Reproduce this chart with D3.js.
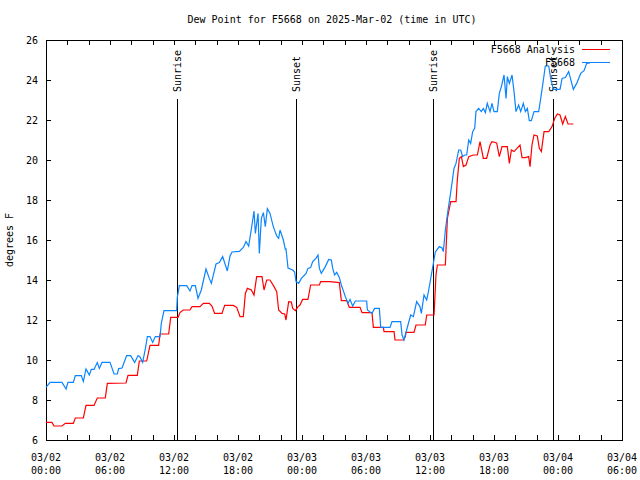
<!DOCTYPE html>
<html>
<head>
<meta charset="utf-8">
<script src="https://cdn.jsdelivr.net/npm/d3@7/dist/d3.min.js"></script>
<style>
  body { margin: 0; background: #fff; }
  text { font-family: "DejaVu Sans Mono", "Liberation Mono", monospace; font-size: 10px; fill: #000; }
</style>
</head>
<body>
<svg id="chart" width="640" height="480"></svg>
<script>
// ---- data (hours since 2025-03-02 00:00 UTC) ----
const obsHours = [0.00,0.38,1.50,1.88,2.06,2.56,2.75,3.31,3.50,3.75,4.06,4.25,4.50,4.81,5.00,5.25,6.00,6.38,6.69,6.81,7.13,7.56,7.94,8.31,8.63,8.81,9.06,9.31,9.50,9.75,10.00,10.25,10.69,10.81,11.06,12.25,12.31,12.50,13.19,13.50,13.69,14.00,14.25,14.56,15.00,15.31,15.50,15.94,16.25,16.56,17.00,17.25,17.44,18.13,18.50,18.75,19.00,19.31,19.50,19.63,19.88,20.00,20.19,20.38,20.56,20.75,21.00,21.31,21.63,21.81,21.94,22.25,22.44,22.50,22.69,23.13,23.31,23.44,23.69,23.94,24.38,24.56,24.81,25.00,25.31,25.50,25.63,25.81,26.19,26.50,26.75,26.88,27.06,27.25,27.50,27.69,28.06,28.31,28.50,28.75,29.00,30.06,30.13,30.56,30.81,31.25,31.38,32.25,32.44,33.25,33.38,33.56,33.81,34.19,34.44,34.75,35.06,35.19,35.44,35.69,35.88,36.19,36.50,36.88,37.13,37.25,37.44,37.69,37.88,38.06,38.25,38.44,38.69,38.88,39.06,39.25,39.44,39.63,39.81,40.00,40.19,40.31,40.56,40.81,41.00,41.19,41.37,41.63,41.81,42.00,42.31,42.50,42.69,42.94,43.13,43.25,43.44,43.69,43.88,44.06,44.31,44.50,44.75,44.94,45.13,45.31,45.50,45.75,46.19,46.38,46.63,46.81,47.13,47.31,47.56,48.19,48.38,48.69,49.00,49.44,49.75,50.13,50.44,50.69,51.00];
const obsValues = [8.63,8.88,8.88,8.55,8.88,8.88,9.22,9.22,8.92,9.55,9.25,9.53,9.53,9.87,9.58,9.88,9.88,9.30,9.30,9.57,9.60,10.22,10.22,9.88,10.22,10.15,9.88,10.55,11.17,11.17,10.88,11.17,11.17,11.83,12.47,12.47,13.13,13.72,13.72,13.45,13.72,13.72,13.08,13.50,14.55,14.08,13.83,14.80,14.87,15.17,14.45,15.20,15.40,15.43,15.63,15.92,15.70,16.75,17.45,16.33,17.33,15.33,17.08,17.37,16.67,17.57,17.33,16.67,16.20,16.08,16.50,16.00,15.53,15.55,14.60,14.50,14.40,13.92,13.83,14.08,14.33,14.58,14.62,14.92,15.08,15.25,14.58,14.33,14.67,15.03,15.00,14.58,14.25,14.38,14.13,13.75,13.17,12.83,13.03,12.70,12.95,12.95,12.50,12.33,12.58,12.58,11.63,11.63,11.92,11.92,11.25,11.00,11.50,12.25,12.17,12.92,12.67,12.33,13.25,13.00,13.50,14.45,15.40,15.67,15.60,15.42,16.50,17.50,18.17,18.83,19.58,19.83,20.50,20.50,20.17,20.25,20.25,21.00,20.83,21.42,21.58,22.42,22.58,22.42,22.58,22.37,22.83,22.42,22.83,22.42,22.42,23.33,23.67,24.25,23.08,24.17,23.83,24.25,23.42,22.42,22.75,22.42,22.83,22.42,22.58,21.97,21.97,22.42,22.42,23.08,24.00,24.70,24.70,24.08,23.53,23.53,24.08,24.12,24.42,23.53,23.83,24.33,24.47,24.83,24.85];

const anaHours = [0.00,0.56,0.75,1.50,1.81,2.56,2.75,3.50,3.75,4.50,4.81,5.56,5.75,7.50,7.69,8.56,8.75,9.44,9.75,10.56,10.69,11.50,11.69,12.38,12.56,12.87,13.50,13.69,14.44,14.75,15.31,15.56,15.81,16.50,16.75,17.56,17.88,18.19,18.50,18.69,18.88,19.25,19.50,19.75,20.25,20.44,20.69,21.00,21.38,21.63,21.81,22.13,22.38,22.50,22.75,23.00,23.13,23.38,23.63,23.81,24.06,24.56,24.81,25.63,25.75,26.63,27.50,27.69,28.19,28.44,29.44,29.63,30.56,30.69,31.63,31.69,32.63,32.72,33.50,33.69,33.75,34.50,34.69,35.56,35.69,36.38,36.56,36.69,37.44,37.63,37.88,37.94,38.44,38.56,38.75,38.94,39.13,39.38,39.63,40.06,40.44,40.69,41.00,41.31,41.63,41.81,42.25,42.50,42.75,43.25,43.44,43.63,43.88,44.44,44.63,44.94,45.25,45.38,45.56,45.75,46.06,46.25,46.44,46.69,47.13,47.44,47.69,47.94,48.19,48.44,48.69,48.94,49.44];
const anaValues = [6.88,6.88,6.70,6.70,6.83,6.83,7.10,7.10,7.73,7.73,8.10,8.10,8.83,8.85,9.23,9.23,9.95,9.95,10.73,10.73,11.30,11.30,12.13,12.13,12.37,12.50,12.50,12.67,12.67,12.83,12.83,12.70,12.33,12.33,12.73,12.73,12.63,12.17,12.17,13.33,13.58,13.50,13.25,14.17,14.17,13.50,14.00,14.00,13.67,13.42,12.50,12.33,12.30,12.00,12.92,12.90,12.58,12.47,12.67,12.75,13.03,13.03,13.75,13.75,13.92,13.92,13.87,12.97,12.97,12.63,12.63,12.37,12.37,11.63,11.63,11.42,11.42,11.00,11.00,11.17,11.38,11.38,11.75,11.75,12.25,12.25,14.25,14.75,14.75,17.08,17.75,17.92,17.92,19.00,20.08,20.17,19.67,19.75,20.17,20.25,20.25,20.92,20.08,20.08,20.75,20.92,20.85,20.17,20.67,20.67,19.83,20.50,20.42,20.75,20.12,20.12,20.17,19.67,20.75,21.25,21.20,20.58,20.42,21.42,21.42,21.67,22.08,22.30,22.25,21.80,22.17,21.80,21.80];

const eventHours = [12.28, 23.44, 36.28, 47.53];
const eventLabels = ["Sunrise", "Sunset", "Sunrise", "Sunset"];

const yTicks = [6,8,10,12,14,16,18,20,22,24,26];
const xLabelHours = [0,6,12,18,24,30,36,42,48,54];
const xLabelDates = ["03/02","03/02","03/02","03/02","03/03","03/03","03/03","03/03","03/04","03/04"];
const xLabelTimes = ["00:00","06:00","12:00","18:00","00:00","06:00","12:00","18:00","00:00","06:00"];
const seriesNames = ["F5668 Analysis", "F5668"];
const seriesColors = ["#ff0000", "#0a84ff"];
const titleText = "Dew Point for F5668 on 2025-Mar-02 (time in UTC)";
const yLabelText = "degrees F";

// ---- layout ----
const L = 46, R = 622, T = 40, B = 440;
const svg = d3.select("#chart");
const x = d3.scaleLinear().domain([0, 54]).range([L, R]);
const y = d3.scaleLinear().domain([6, 26]).range([B, T]);

// title
svg.append("text").attr("x", 332).attr("y", 23).attr("text-anchor", "middle").text(titleText);

// y label
svg.append("text").attr("transform", "translate(13,240) rotate(-90)")
  .attr("text-anchor", "middle").text(yLabelText);

// ticks (every 2h on x, mirrored)
const g = svg.append("g").attr("shape-rendering", "crispEdges");
const xTickHours = d3.range(0, 55, 2);
g.selectAll(".xtb").data(xTickHours).enter().append("line")
  .attr("x1", d => Math.round(x(d)) + 0.5).attr("x2", d => Math.round(x(d)) + 0.5)
  .attr("y1", B).attr("y2", B - 5).attr("stroke", "#000");
g.selectAll(".xtt").data(xTickHours).enter().append("line")
  .attr("x1", d => Math.round(x(d)) + 0.5).attr("x2", d => Math.round(x(d)) + 0.5)
  .attr("y1", T).attr("y2", T + 5).attr("stroke", "#000");
g.selectAll(".ytl").data(yTicks).enter().append("line")
  .attr("x1", L).attr("x2", L + 5)
  .attr("y1", d => Math.round(y(d)) + 0.5).attr("y2", d => Math.round(y(d)) + 0.5).attr("stroke", "#000");
g.selectAll(".ytr").data(yTicks).enter().append("line")
  .attr("x1", R).attr("x2", R - 5)
  .attr("y1", d => Math.round(y(d)) + 0.5).attr("y2", d => Math.round(y(d)) + 0.5).attr("stroke", "#000");

// y tick labels
svg.selectAll(".ylab").data(yTicks).enter().append("text")
  .attr("x", L - 8).attr("y", d => y(d) + 3.5).attr("text-anchor", "end").text(d => d);

// x tick labels
svg.selectAll(".xlab1").data(xLabelHours).enter().append("text")
  .attr("x", d => x(d)).attr("y", 461).attr("text-anchor", "middle").text((d, i) => xLabelDates[i]);
svg.selectAll(".xlab2").data(xLabelHours).enter().append("text")
  .attr("x", d => x(d)).attr("y", 474).attr("text-anchor", "middle").text((d, i) => xLabelTimes[i]);

// sunrise / sunset lines
g.selectAll(".ev").data(eventHours).enter().append("line")
  .attr("x1", d => Math.round(x(d)) + 0.5).attr("x2", d => Math.round(x(d)) + 0.5)
  .attr("y1", 99).attr("y2", B).attr("stroke", "#000");
svg.selectAll(".evl").data(eventHours).enter().append("text")
  .attr("transform", d => `translate(${Math.round(x(d)) + 0.5},92) rotate(-90)`)
  .attr("dy", "0.35em").attr("text-anchor", "start").text((d, i) => eventLabels[i]);

// series
const line = d3.line().x(d => x(d[0])).y(d => y(d[1]));
const anaData = anaHours.map((h, i) => [h, anaValues[i]]);
const obsData = obsHours.map((h, i) => [h, obsValues[i]]);
svg.append("path").datum(anaData).attr("d", line).attr("fill", "none")
  .attr("stroke", seriesColors[0]).attr("stroke-width", 1.2);
svg.append("path").datum(obsData).attr("d", line).attr("fill", "none")
  .attr("stroke", seriesColors[1]).attr("stroke-width", 1.2);

// legend
seriesNames.forEach((name, i) => {
  const ly = 49 + i * 13;
  svg.append("text").attr("x", 575).attr("y", ly + 3.5).attr("text-anchor", "end").text(name);
  svg.append("line").attr("x1", 582).attr("x2", 610).attr("y1", ly + 0.5).attr("y2", ly + 0.5)
    .attr("stroke", seriesColors[i]).attr("stroke-width", 1.2).attr("shape-rendering", "crispEdges");
});

// border
g.append("rect").attr("x", L + 0.5).attr("y", T + 0.5).attr("width", R - L).attr("height", B - T)
  .attr("fill", "none").attr("stroke", "#000");
</script>
</body>
</html>
